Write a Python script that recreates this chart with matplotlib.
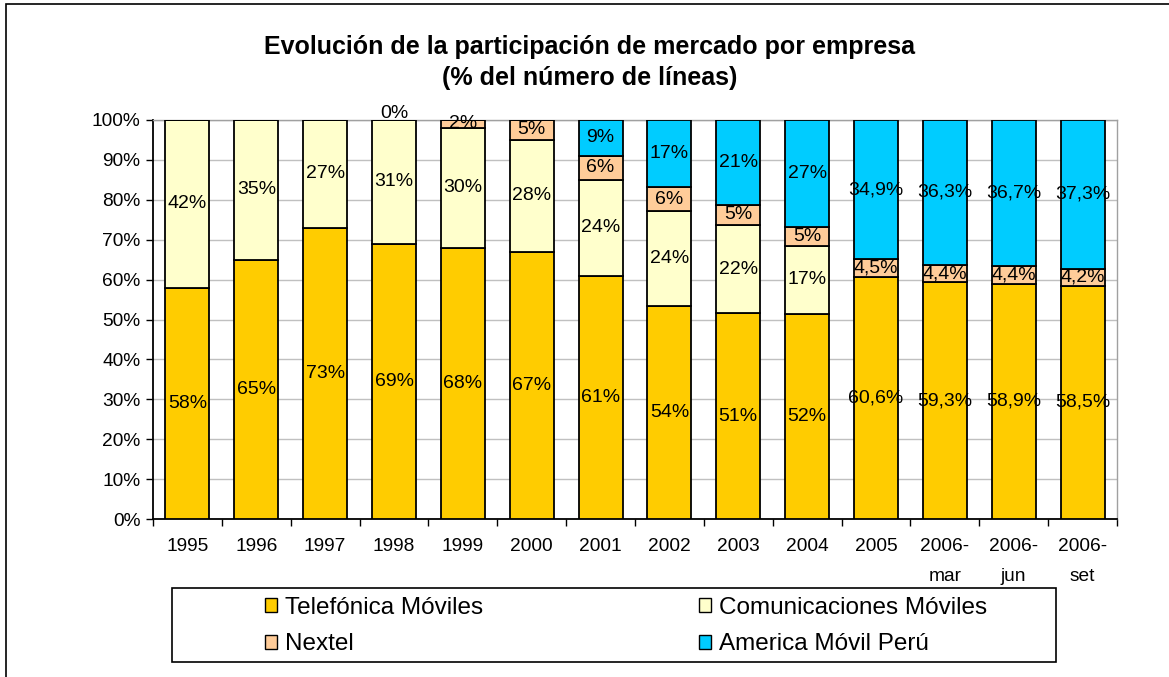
import numpy as np
import matplotlib
matplotlib.use("Agg")
import matplotlib.pyplot as plt
from matplotlib.patches import Rectangle

plt.rcParams['font.family'] = ['Liberation Sans', 'DejaVu Sans']

categories = ["1995", "1996", "1997", "1998", "1999", "2000", "2001", "2002",
              "2003", "2004", "2005", "2006-\nmar", "2006-\njun", "2006-\nset"]
telefonica = [58, 65, 73, 69, 68, 67, 61, 54, 51, 52, 60.6, 59.3, 58.9, 58.5]
comunicaciones = [42, 35, 27, 31, 30, 28, 24, 24, 22, 17, None, None, None, None]
nextel = [None, None, None, 0, 2, 5, 6, 6, 5, 5, 4.5, 4.4, 4.4, 4.2]
america = [None, None, None, None, None, None, 9, 17, 21, 27, 34.9, 36.3, 36.7, 37.3]

series = [
    ("Telefónica Móviles", telefonica, "#FFCC00"),
    ("Comunicaciones Móviles", comunicaciones, "#FFFFCC"),
    ("Nextel", nextel, "#FFCC99"),
    ("America Móvil Perú", america, "#00CCFF"),
]

W, H = 1169, 677
fig = plt.figure(figsize=(W / 100, H / 100), dpi=100)

# figure border (Excel chart area)
fig.patches.append(Rectangle((6 / W, -0.1), 1.2, (H - 4) / H + 0.1, transform=fig.transFigure,
                             fill=False, edgecolor="black", linewidth=1.2, zorder=0))

ax = fig.add_axes([153 / W, (H - 519) / H, (1117 - 153) / W, (519 - 120) / H])

n = len(categories)
x = np.arange(n)
vals = np.array([[0 if v is None else v for v in s[1]] for s in series], dtype=float)
totals = vals.sum(axis=0)
norm = vals / totals * 100

def fmt(v):
    if float(v).is_integer():
        return f"{int(v)}%"
    return f"{v:.1f}%".replace(".", ",")

handles = []
bottom = np.zeros(n)
for k, (name, data, color) in enumerate(series):
    b = ax.bar(x, norm[k], width=0.64, bottom=bottom, color=color, edgecolor="black",
               linewidth=1.3, label=name, zorder=3)
    handles.append(b)
    for i, v in enumerate(data):
        if v is None:
            continue
        if norm[k][i] == 0:
            ax.text(x[i], bottom[i] - 0.5, fmt(v), ha="center", va="bottom",
                    fontsize=14, zorder=5)
        else:
            ax.text(x[i], bottom[i] + norm[k][i] / 2, fmt(v), ha="center",
                    va="center", fontsize=14, zorder=5)
    bottom += norm[k]

ax.set_xlim(-0.5, n - 0.5)
ax.set_ylim(0, 100)
ax.set_yticks(np.arange(0, 101, 10))
ax.set_yticklabels([f"{t}%" for t in range(0, 101, 10)], fontsize=13.8)
ax.yaxis.grid(True, color="#C0C0C0", linewidth=1, zorder=0)
ax.set_axisbelow(True)

ax.set_xticks(x)
ax.set_xticklabels(categories, fontsize=13.8, linespacing=2.0, va="top")
ax.set_xticks(np.arange(-0.5, n, 1), minor=True)
ax.tick_params(axis="x", which="major", length=0, pad=14)
ax.tick_params(axis="x", which="minor", length=5, width=1, color="black", direction="out")
ax.tick_params(axis="y", length=5, width=1, direction="out", pad=4)

for side in ["top", "right"]:
    ax.spines[side].set_color("#A0A0A0")
    ax.spines[side].set_linewidth(1)
ax.spines["left"].set_linewidth(1.3)
ax.spines["bottom"].set_linewidth(1.3)

fig.text(590 / W, 1 - 47 / H, "Evolución de la participación de mercado por empresa",
         ha="center", va="center", fontsize=18, fontweight="bold")
fig.text(590 / W, 1 - 78 / H, "(% del número de líneas)",
         ha="center", va="center", fontsize=18, fontweight="bold")

# legend box
fig.patches.append(Rectangle((172 / W, (H - 662) / H), (1056 - 172) / W, (662 - 588) / H,
                             transform=fig.transFigure, fill=False, edgecolor="black",
                             linewidth=1.2, zorder=1))
order = [0, 2, 1, 3]
leg = fig.legend([handles[i] for i in order], [series[i][0] for i in order],
                 loc="center", bbox_to_anchor=(626 / W, 1 - 626 / H),
                 ncol=2, fontsize=17.5, frameon=False,
                 handlelength=0.5, handleheight=0.5,
                 handletextpad=0.3, labelspacing=0.6, columnspacing=8.9,
                 borderaxespad=0, borderpad=0)
for h in leg.legend_handles:
    h.set_linewidth(1)

fig.savefig("out.png", dpi=100)
